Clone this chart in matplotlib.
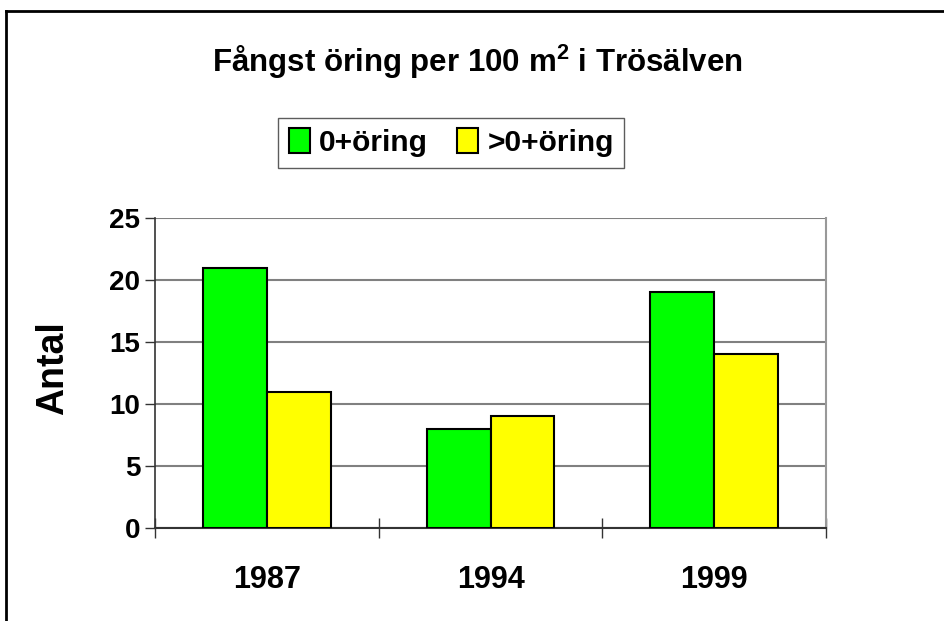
import matplotlib
matplotlib.use('Agg')
import matplotlib.pyplot as plt
import numpy as np
from matplotlib.lines import Line2D

plt.rcParams['font.family'] = ['Liberation Sans', 'DejaVu Sans']
plt.rcParams['mathtext.fontset'] = 'custom'
plt.rcParams['mathtext.bf'] = 'Liberation Sans:bold'
plt.rcParams['mathtext.rm'] = 'Liberation Sans:bold'

years = ['1987', '1994', '1999']
series_names = ['0+öring', '>0+öring']
young = [21, 8, 19]
older = [11, 9, 14]
colors = ['#00FF00', '#FFFF00']

fig = plt.figure(figsize=(9.44, 6.21), dpi=100)
ax = fig.add_axes([0.1642, 0.1498, 0.7108, 0.4992])

x = np.arange(len(years))
w = 1 / 3.5
ax.bar(x - w / 2, young, w, color=colors[0], edgecolor='black', linewidth=1.5,
       label=series_names[0], zorder=3)
ax.bar(x + w / 2, older, w, color=colors[1], edgecolor='black', linewidth=1.5,
       label=series_names[1], zorder=3)

ax.set_xlim(-0.5, 2.5)
ax.set_ylim(0, 25)
ax.set_yticks(range(0, 26, 5))
ax.yaxis.grid(True, color='#808080', linewidth=1.5, zorder=0)
ax.set_axisbelow(True)

ax.set_xticks([-0.5, 0.5, 1.5, 2.5])
ax.set_xticklabels([])
ax.set_xticks(x, minor=True)
ax.set_xticklabels(years, minor=True, fontsize=22, fontweight='bold')
ax.tick_params(axis='x', which='major', direction='inout', length=14, width=1, color='#333333')
ax.tick_params(axis='x', which='minor', length=0, pad=27)
ax.tick_params(axis='y', direction='out', length=7, width=1, color='#333333', pad=3.5,
               labelsize=20)
for lbl in ax.get_yticklabels():
    lbl.set_fontweight('bold')

ax.spines['top'].set_visible(False)
ax.spines['right'].set_color('#999999')
ax.spines['right'].set_linewidth(1.5)
ax.spines['left'].set_color('#333333')
ax.spines['bottom'].set_color('#333333')
ax.spines['left'].set_linewidth(1.2)
ax.spines['bottom'].set_linewidth(1.5)

fig.text(0.056, 0.407, 'Antal', rotation=90, fontsize=27, fontweight='bold',
         ha='center', va='center')

fig.text(0.506, 0.90, r'Fångst öring per 100 m$^{\mathbf{2}}$ i Trösälven', fontsize=22.5,
         fontweight='bold', ha='center', va='center')

leg = fig.legend(loc='center', bbox_to_anchor=(0.478, 0.770), ncol=2, frameon=True,
                 fancybox=False, prop={'size': 21.5, 'weight': 'bold'},
                 handlelength=0.7, handleheight=0.9, handletextpad=0.3,
                 columnspacing=1.0, borderpad=0.35, edgecolor='#333333')
leg.get_frame().set_linewidth(1.0)

fig.add_artist(Line2D([6 / 944, 6 / 944], [0, 1 - 11 / 621], color='black', linewidth=2))
fig.add_artist(Line2D([6 / 944, 1], [1 - 11 / 621, 1 - 11 / 621], color='black', linewidth=2))

fig.savefig('out.png', dpi=100)
